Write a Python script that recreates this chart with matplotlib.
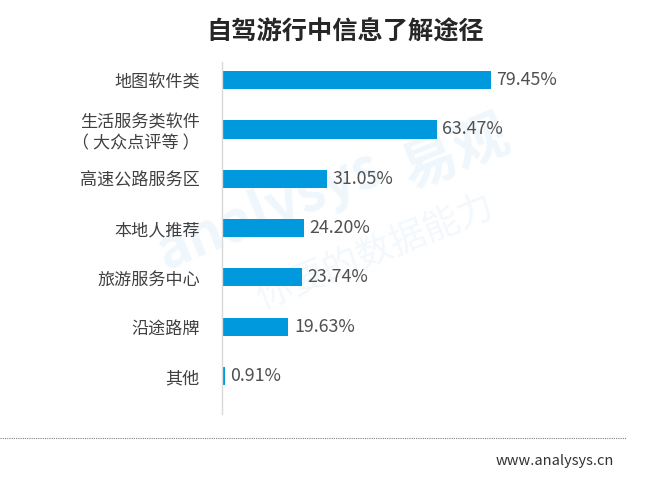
import matplotlib.pyplot as plt

plt.rcParams['font.family'] = ['Noto Sans CJK SC', 'DejaVu Sans']

categories = ['地图软件类', '生活服务类软件\n（ 大众点评等 ）', '高速公路服务区',
              '本地人推荐', '旅游服务中心', '沿途路牌', '其他']
values = [79.45, 63.47, 31.05, 24.20, 23.74, 19.63, 0.91]
title = '自驾游行中信息了解途径'

fig = plt.figure(figsize=(6.71, 4.78), dpi=100)

# faint watermark, kept behind the chart
fig.text(0.40, 0.56, 'analysys', fontsize=40, color='#f0f7fc', rotation=22,
         ha='center', va='center', fontweight='bold', zorder=-5)
fig.text(0.68, 0.68, '易观', fontsize=40, color='#f0f7fc', rotation=22,
         ha='center', va='center', fontweight='bold', zorder=-5)
fig.text(0.56, 0.47, '你要的数据能力', fontsize=26, color='#f3f8fc', rotation=22,
         ha='center', va='center', zorder=-5)

ax = fig.add_axes([0.331, 0.134, 0.504, 0.736])
ax.set_zorder(2)
ax.patch.set_alpha(0)
y = list(range(len(categories)))
ax.barh(y, values, height=0.37, color='#0099dd')
for yi, v in zip(y, values):
    ax.text(v + 1.6, yi, f'{v:.2f}%', va='center', ha='left', fontsize=12.8,
            color='#505050')

ax.set_xlim(0, 100)
ax.set_ylim(6.77, -0.365)
ax.set_yticks(y)
ax.set_yticklabels(categories, fontsize=12.3, color='#404040', linespacing=1.2)
ax.tick_params(axis='y', length=0, pad=16)
ax.set_xticks([])
for s in ['top', 'right', 'bottom']:
    ax.spines[s].set_visible(False)
ax.spines['left'].set_color('#d9d9d9')
ax.spines['left'].set_linewidth(1)

fig.text(0.514, 0.934, title, fontsize=18.2, fontweight='bold', color='#262626',
         ha='center', va='center')

# dotted separator and source
fig.add_artist(plt.Line2D([0.0, 0.933], [0.084, 0.084], color='#808080',
                          linestyle=(0, (1, 1)), linewidth=0.8))
fig.text(0.915, 0.035, 'www.analysys.cn', fontsize=10.5, color='#333333',
         ha='right', va='center')

fig.savefig('out.png', dpi=100)
